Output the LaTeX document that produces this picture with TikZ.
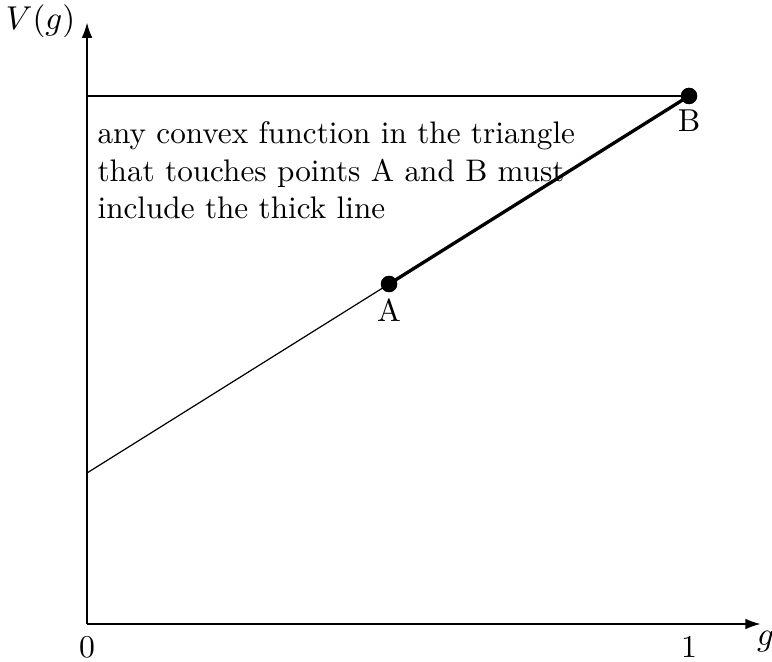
\documentclass[tikz,border=0pt]{standalone}
\usetikzlibrary{arrows.meta}
\begin{document}
\begin{tikzpicture}[
  axis/.style={line width=0.4pt,-{Latex[length=5pt,width=3.5pt]}},
  thinline/.style={line width=0.4pt},
  thickline/.style={line width=1.1pt},
  dot/.style={circle,fill=black,inner sep=0pt,minimum size=0.19cm},
  lbl/.style={inner sep=0pt,font=\fontsize{10.5}{12.6}\selectfont}
]
\useasboundingbox (-1.013,-0.431) rectangle (7.974,7.264);
\coordinate (O) at (0,0);
\coordinate (X) at (7.84,0);
\coordinate (Y) at (0,7.0);
\coordinate (T) at (0,6.147);
\coordinate (C) at (0,1.758);
\node[dot] (A) at (3.516,3.958) {};
\node[dot] (B) at (7.008,6.147) {};
\draw[axis] (O) -- (X);
\draw[axis] (O) -- (Y);
\draw[thinline] (T) -- (B.center);
\draw[thinline] (C) -- (A.center);
\draw[thickline] (A.center) -- (B.center);
\node[dot] at (A) {};
\node[dot] at (B) {};
\node[lbl] (l0) at (0,-0.27) {0};
\node[lbl] (l1) at (7.008,-0.27) {1};
\node[lbl] (lg) at (7.9,-0.2) {$g$};
\node[lbl] (lV) at (-0.54,7.02) {$V(g)$};
\node[lbl] (lA) at (3.516,3.65) {A};
\node[lbl] (lB) at (7.008,5.86) {B};
\node[lbl,anchor=north west,align=left,font=\fontsize{10.33}{12.45}\selectfont] (txt) at (0.116,5.855)
  {any convex function in the triangle\\that touches points A and B must\\include the thick line};
\end{tikzpicture}
\end{document}
